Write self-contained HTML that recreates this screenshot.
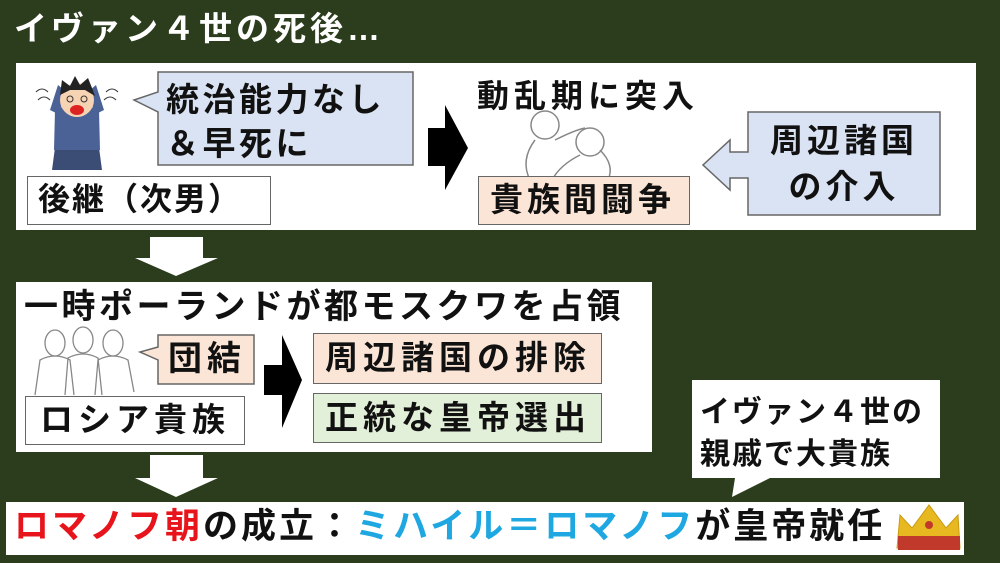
<!DOCTYPE html>
<html><head><meta charset="utf-8"><style>
body{margin:0;width:1000px;height:563px;background:#2b3d1d;position:relative;overflow:hidden;font-family:"Liberation Sans","Noto Sans CJK JP",sans-serif;font-weight:bold;}
div{position:absolute;box-sizing:border-box;}
.w{background:#fff;}
.t{white-space:nowrap;line-height:1;color:#111;letter-spacing:4px;}
.bx{border:1.5px solid #666;}
</style></head><body>
<div class="t" style="left:14px;top:12px;font-size:33px;color:#fff;">イヴァン４世の死後…</div>

<div class="w" style="left:16px;top:63px;width:960px;height:167px;"></div>
<div class="w" style="left:16px;top:282px;width:636px;height:170px;"></div>
<div class="w" style="left:6px;top:502px;width:958px;height:53px;"></div>
<svg style="position:absolute;left:0;top:0" width="1000" height="563">
 <g>
  <path d="M52 170 L56 140 L98 140 L102 170 Z" fill="#3b4d75"/>
  <path d="M55 110 Q77 100 99 110 L100 150 L54 150 Z" fill="#4a6296"/>
  <path d="M50 110 L58 85 L64 90 L60 115 Z M104 110 L96 85 L90 90 L94 115 Z" fill="#4a6296"/>
  <circle cx="77" cy="100" r="17" fill="#f6d3b3"/>
  <path d="M60 95 L62 80 L70 86 L75 76 L80 85 L88 78 L92 88 L95 96 L85 90 L70 90 Z" fill="#222"/>
  <ellipse cx="77" cy="110" rx="7" ry="5" fill="#d22"/>
  <circle cx="70" cy="99" r="3" fill="none" stroke="#333"/><circle cx="84" cy="99" r="3" fill="none" stroke="#333"/>
  <path d="M36 92 q6 -6 12 0 M38 100 q6 -6 12 0 M106 92 q6 -6 12 0 M104 100 q6 -6 12 0" stroke="#333" fill="none"/>
 </g>
 <path d="M158 72 H413 V165 H158 V112 L134 100 L158 92 Z" fill="#dae3f3" stroke="#666" stroke-width="1.5"/>
 <path d="M428 128 H445 V105 L468 148 L445 190 V166 H428 Z" fill="#000"/>
 <g fill="none" stroke="#888" stroke-width="1.5">
  <circle cx="545" cy="125" r="14"/><circle cx="590" cy="142" r="14"/>
  <path d="M535 140 Q520 160 530 180 M555 140 Q575 130 585 128 M600 150 Q615 165 608 180 M580 155 Q560 165 552 180"/>
 </g>
 <path d="M748 112 H940 V215 H748 V178 H730 V190 L703 165 L730 140 V152 H748 Z" fill="#dae3f3" stroke="#666" stroke-width="1.5"/>
 <path d="M150 237 H203 V258 H218 L176 276 L135 258 H150 Z" fill="#fff"/>
 <path d="M150 455 H203 V478 H218 L176 497 L135 478 H150 Z" fill="#fff"/>
 <g fill="none" stroke="#888" stroke-width="1.3">
  <ellipse cx="55" cy="343" rx="10" ry="13"/><ellipse cx="83" cy="340" rx="10" ry="13"/><ellipse cx="113" cy="343" rx="10" ry="13"/>
  <path d="M35 395 L40 360 Q55 352 70 360 L74 395 M65 395 L68 358 Q83 350 98 358 L102 395 M95 395 L98 360 Q113 352 128 360 L134 392"/>
 </g>
 <path d="M158 335 H254 V384 H158 V360 L140 352 L158 347 Z" fill="#fbe5d6" stroke="#666" stroke-width="1.5"/>
 <path d="M264 365 H282 V335 L302 380 L282 428 V395 H264 Z" fill="#000"/>
 <path d="M692 380 H940 V478 H770 L732 497 L735 478 H692 Z" fill="#fff"/>
 <g>
  <path d="M897 548 L900 515 L912 528 L929 505 L946 528 L958 515 L960 548 Z" fill="#e8b820" stroke="#c99a10"/>
  <rect x="898" y="536" width="62" height="14" fill="#c0392b"/>
  <circle cx="929" cy="525" r="4" fill="#c0392b"/>
 </g>
</svg>
<div class="t" style="left:166px;top:78px;font-size:33px;line-height:44px;letter-spacing:3.5px;">統治能力なし<br>＆早死に</div>
<div class="w bx" style="left:27px;top:176px;width:244px;height:49px;"></div>
<div class="t" style="left:38px;top:183px;font-size:32px;letter-spacing:2px;">後継（次男）</div>
<div class="t" style="left:477px;top:80px;font-size:32px;letter-spacing:5px;">動乱期に突入</div>
<div class="bx" style="left:478px;top:176px;width:212px;height:49px;background:#fbe5d6;"></div>
<div class="t" style="left:490px;top:183px;font-size:33px;">貴族間闘争</div>
<div class="t" style="left:770px;top:118px;font-size:33px;line-height:46px;text-align:center;">周辺諸国<br>の介入</div>

<div class="t" style="left:24px;top:290px;font-size:34px;letter-spacing:3.5px;">一時ポーランドが都モスクワを占領</div>
<div class="t" style="left:168px;top:342px;font-size:34px;letter-spacing:5px;">団結</div>
<div class="w bx" style="left:25px;top:396px;width:220px;height:49px;"></div>
<div class="t" style="left:40px;top:403px;font-size:33px;letter-spacing:5px;">ロシア貴族</div>
<div class="bx" style="left:313px;top:333px;width:289px;height:51px;background:#fbe5d6;"></div>
<div class="t" style="left:325px;top:341px;font-size:33px;letter-spacing:5px;">周辺諸国の排除</div>
<div class="bx" style="left:313px;top:393px;width:289px;height:50px;background:#e2f0d9;"></div>
<div class="t" style="left:325px;top:401px;font-size:33px;letter-spacing:5px;">正統な皇帝選出</div>
<div class="t" style="left:700px;top:392px;font-size:30px;line-height:42px;letter-spacing:2px;">イヴァン４世の<br>親戚で大貴族</div>

<div class="t" style="left:14px;top:509px;font-size:35px;letter-spacing:3px;"><span style="color:#e8141b">ロマノフ朝</span>の成立：<span style="color:#1ea7e0">ミハイル＝ロマノフ</span>が皇帝就任</div>
</body></html>
